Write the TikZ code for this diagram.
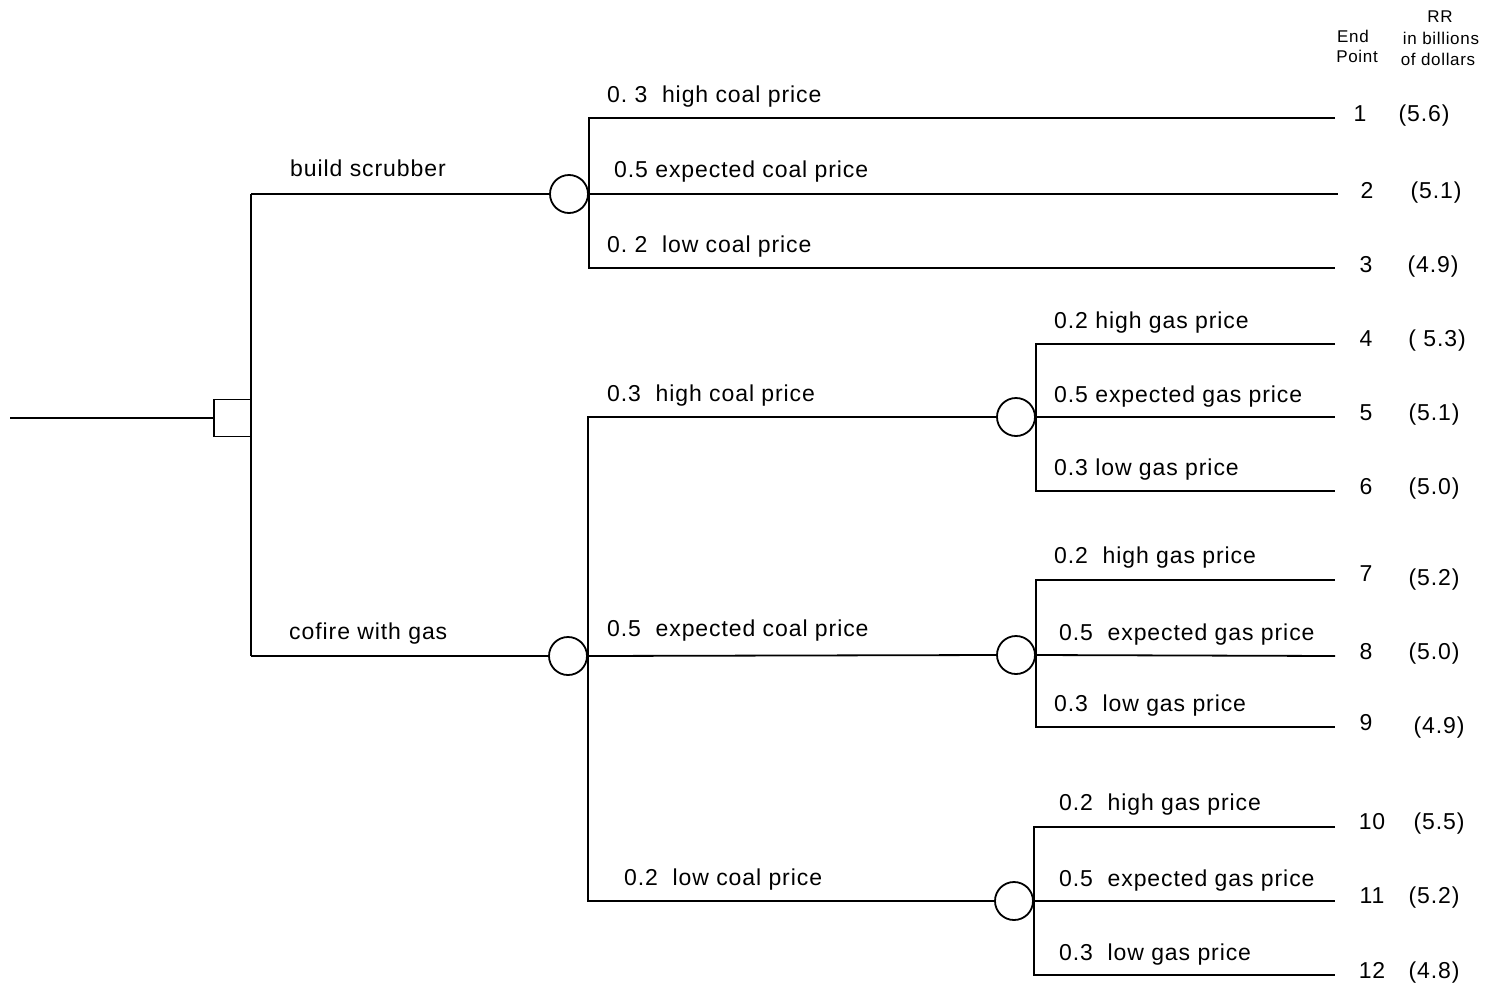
\documentclass[tikz,border=0pt]{standalone}
\usepackage{fontspec}
\setmainfont{Liberation Sans}[LetterSpace=4]
\frenchspacing
\begin{document}
\begin{tikzpicture}[x=1pt,y=-1pt,
  ln/.style={line width=1.8pt},
  dec/.style={draw,line width=1.8pt,minimum size=37pt,inner sep=0pt},
  chance/.style={draw,line width=1.8pt,circle,minimum size=38pt,inner sep=0pt,fill=white},
  lab/.style={anchor=base west,inner sep=0pt,font=\fontsize{23}{27}\selectfont},
  num/.style={anchor=base,inner sep=0pt,font=\fontsize{23}{27}\selectfont},
  hdr/.style={anchor=base,inner sep=0pt,font=\fontsize{17}{20}\selectfont}]
\useasboundingbox (0,0) rectangle (1487,985);
% decision node
\coordinate (s) at (10,418);
\node[dec] (d0) at (232.5,418) {};
\coordinate (j1) at (251,194);
\coordinate (j2) at (251,656);
\draw[ln] (s) -- (d0.west);
\draw[ln] (j1) -- (j2);
% chance nodes
\node[chance] (c1) at (569,194) {};
\node[chance] (c2) at (568,656) {};
\node[chance] (c3) at (1016,417) {};
\node[chance] (c4) at (1016,655) {};
\node[chance] (c5) at (1014,901) {};
\draw[ln] (j1) -- (c1.west);
\draw[ln] (j2) -- (c2.west);
% end points
\coordinate (e1) at (1335,118);
\coordinate (e2) at (1338,194);
\coordinate (e3) at (1335,268);
\coordinate (e4) at (1335,344);
\coordinate (e5) at (1335,417);
\coordinate (e6) at (1335,491);
\coordinate (e7) at (1335,580);
\coordinate (e8) at (1335,656);
\coordinate (e9) at (1335,727);
\coordinate (e10) at (1335,827);
\coordinate (e11) at (1335,901);
\coordinate (e12) at (1335,975);
% c1 branches
\draw[ln] (e1) -| (c1.east) |- (e3);
\draw[ln] (c1.east) -- (e2);
% c2 branches
\draw[ln] (c3.west) -| (c2.east) |- (c5.west);
\draw[ln] (c2.east) -- (c4.west);
% c3, c4, c5 branches
\draw[ln] (e4) -| (c3.east) |- (e6);
\draw[ln] (c3.east) -- (e5);
\draw[ln] (e7) -| (c4.east) |- (e9);
\draw[ln] (c4.east) -- (e8);
\draw[ln] (e10) -| (c5.east) |- (e12);
\draw[ln] (c5.east) -- (e11);
% labels
\node[lab] (l1) at (290,176) {build scrubber};
\node[lab] (l2) at (289,639) {cofire with gas};
\node[lab] (l3) at (607,102) {0. 3~~high coal price};
\node[lab] (l4) at (614,177) {0.5 expected coal price};
\node[lab] (l5) at (607,252) {0. 2~~low coal price};
\node[lab] (l6) at (607,401) {0.3~~high coal price};
\node[lab] (l7) at (607,636) {0.5~~expected coal price};
\node[lab] (l8) at (624,885) {0.2~~low coal price};
\node[lab] (l9) at (1054,328) {0.2 high gas price};
\node[lab] (l10) at (1054,402) {0.5 expected gas price};
\node[lab] (l11) at (1054,475) {0.3 low gas price};
\node[lab] (l12) at (1054,563) {0.2~~high gas price};
\node[lab] (l13) at (1059,640) {0.5~~expected gas price};
\node[lab] (l14) at (1054,711) {0.3~~low gas price};
\node[lab] (l15) at (1059,810) {0.2~~high gas price};
\node[lab] (l16) at (1059,886) {0.5~~expected gas price};
\node[lab] (l17) at (1059,960) {0.3~~low gas price};
% header
\node[hdr] (h1) at (1440,22) {RR};
\node[hdr] (h2) at (1353,42) {End};
\node[hdr] (h3) at (1441,44) {in billions};
\node[hdr] (h4) at (1357,62) {Point};
\node[hdr] (h5) at (1438,65) {of dollars};
% end point numbers and values
\node[num] (n1) at (1360,121) {1};
\node[num] (v1) at (1424,121) {(5.6)};
\node[num] (n2) at (1367,198) {2};
\node[num] (v2) at (1436,198) {(5.1)};
\node[num] (n3) at (1366,272) {3};
\node[num] (v3) at (1433,272) {(4.9)};
\node[num] (n4) at (1366,346) {4};
\node[num] (v4) at (1437,346) {( 5.3)};
\node[num] (n5) at (1366,420) {5};
\node[num] (v5) at (1434,420) {(5.1)};
\node[num] (n6) at (1366,494) {6};
\node[num] (v6) at (1434,494) {(5.0)};
\node[num] (n7) at (1366,581) {7};
\node[num] (v7) at (1434,585) {(5.2)};
\node[num] (n8) at (1366,659) {8};
\node[num] (v8) at (1434,659) {(5.0)};
\node[num] (n9) at (1366,730) {9};
\node[num] (v9) at (1439,733) {(4.9)};
\node[num] (n10) at (1372,829) {10};
\node[num] (v10) at (1439,829) {(5.5)};
\node[num] (n11) at (1372,903) {11};
\node[num] (v11) at (1434,903) {(5.2)};
\node[num] (n12) at (1372,978) {12};
\node[num] (v12) at (1434,978) {(4.8)};
\end{tikzpicture}
\end{document}
